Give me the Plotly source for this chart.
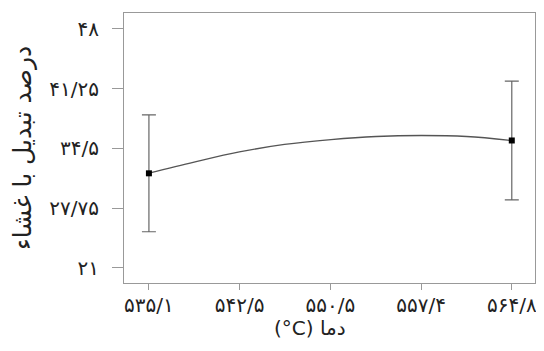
import plotly.graph_objects as go

# Data
x_points = [535.1, 564.8]
y_points = [31.69, 35.4]
y_err = [6.6, 6.7]

curve_x = [535.1, 538.8, 542.5, 546.2, 550.0, 553.7, 557.4, 561.1, 564.8]
curve_y = [31.7, 32.95, 34.1, 34.95, 35.5, 35.85, 35.96, 35.85, 35.4]

x_tickvals = [535.1, 542.525, 549.95, 557.375, 564.8]
x_ticktext = ["۵۳۵/۱", "۵۴۲/۵", "۵۵۰/۵", "۵۵۷/۴", "۵۶۴/۸"]
y_tickvals = [21, 27.75, 34.5, 41.25, 48]
y_ticktext = ["۲۱", "۲۷/۷۵", "۳۴/۵", "۴۱/۲۵", "۴۸"]

x_title = "(°C) دما"
y_title = "درصد تبدیل با غشاء"

font_fam = "DejaVu Sans, Liberation Serif, serif"

fig = go.Figure()
fig.add_trace(go.Scatter(
    x=curve_x, y=curve_y, mode="lines",
    line=dict(color="#555555", width=1.3, shape="spline"),
    hoverinfo="skip", showlegend=False,
))
fig.add_trace(go.Scatter(
    x=x_points, y=y_points, mode="markers",
    marker=dict(symbol="square", size=6, color="black"),
    error_y=dict(type="data", array=y_err, visible=True,
                 color="#666666", thickness=1.2, width=7),
    showlegend=False,
))

axis_common = dict(
    showgrid=False, zeroline=False, showline=True, mirror=True,
    linecolor="#999999", linewidth=1.2, automargin=False,
    ticks="outside", tickcolor="#999999", tickwidth=1.2,
    tickfont=dict(family=font_fam, size=20, color="#222222"),
)

# page body has an 8px margin, so the figure is sized/offset to compensate
fig.update_layout(
    width=536, height=343,
    margin=dict(l=116, r=9, t=5, b=68),
    paper_bgcolor="white", plot_bgcolor="white",
    xaxis=dict(range=[533.06, 566.7], tickvals=x_tickvals, ticktext=x_ticktext,
               ticklen=6, ticklabelstandoff=-2,
               **axis_common),
    yaxis=dict(range=[19.3, 49.8], tickvals=y_tickvals, ticktext=y_ticktext,
               ticklen=11, ticklabelstandoff=9,
               title=dict(text=y_title, standoff=34,
                          font=dict(family=font_fam, size=25, color="#222222")),
               **axis_common),
    annotations=[dict(
        text=x_title, xref="paper", yref="paper", x=0.4526, y=-0.1667,
        xanchor="center", yanchor="middle", showarrow=False,
        font=dict(family=font_fam, size=20, color="#222222"),
    )],
)

fig.write_html("out.html")
